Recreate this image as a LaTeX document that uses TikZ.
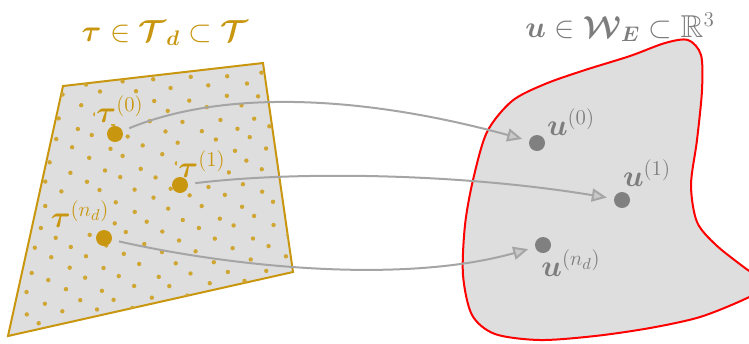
\documentclass[tikz,border=0pt]{standalone}
\usepackage{amsmath,amssymb,bm}
\usetikzlibrary{arrows.meta,positioning,calc}

\definecolor{gold}{RGB}{200,150,15}
\definecolor{dotgray}{RGB}{128,128,128}
\definecolor{arrowgray}{RGB}{165,165,165}
\definecolor{fillgray}{RGB}{222,222,222}
\definecolor{textgray}{RGB}{125,125,125}

\pgfdeclarelayer{front}
\pgfsetlayers{main,front}

\begin{document}
\begin{tikzpicture}[x=0.02cm, y=-0.02cm, bigdot/.style={circle, inner
      sep=0pt, minimum size=0.32cm}, taudot/.style={bigdot, fill=gold},
      udot/.style={bigdot, fill=dotgray}, maplabel/.style={inner sep=0pt,
      font=\fontsize{18pt}{20pt}\selectfont}, taulabel/.style={maplabel,
      text=gold, fill=fillgray, inner sep=1pt}, mapping/.style={draw=arrowgray,
      line width=0.04cm, shorten <=0.14cm, shorten >=0.14cm,
      -{Triangle[length=0.3cm, width=0.26cm, fill=arrowgray!60]}} ]

    \useasboundingbox (0,0) rectangle (749,343);

    % Parameter set (left)
    \draw[gold, line width=0.04cm, fill=fillgray] (63,86) -- (263,63) --
    (293,272) -- (8,336) -- cycle;

    % Sample points of the set
    \begin{scope}
      \clip (63,86) -- (263,63) -- (293,272) -- (8,336) -- cycle;
      \pgfmathsetseed{11}
      \foreach \i in {-14,...,9}
        \foreach \j in {0,...,29}
          \fill[gold!85] ({\i*36+\j*16+3*rand}, {55+\j*10-2*\i+2*rand})
          circle (0.044cm);
    \end{scope}

    % Displacement domain (right)
    \draw[red, line width=0.04cm, fill=fillgray] plot[smooth cycle]
    coordinates {(688,40) (701,55) (702,90) (697,140) (691,185) (697,222)
    (716,245) (745,268) (768,285) (745,299) (700,317) (650,328) (595,336)
    (540,340) (495,334) (472,315) (463,275) (465,225) (473,180) (487,132)
    (512,101) (545,84) (585,70) (630,56) (665,43)};

    % Titles
    \node[maplabel, text=gold] (ttitle) at (165,33) {$\bm{\tau} \in
    \bm{\mathcal{T}_{d}} \subset \bm{\mathcal{T}}$};
    \node[maplabel, text=textgray] (utitle) at (620,27) {$\bm{u} \in
    \bm{\mathcal{W}_{E}} \subset \mathbb{R}^{3}$};

    % Samples and responses, kept in front of the labels
    \begin{pgfonlayer}{front}
      \node[taudot] (t0) at (115,134) {}; \node[taudot] (t1) at (180,185) {};
      \node[taudot] (tn) at (104,238) {};
      \node[udot] (u0) at (537,143) {}; \node[udot] (u1) at (622,200) {};
      \node[udot] (un) at (543,245) {};
    \end{pgfonlayer}

    % Labels for samples and responses
    \node[taulabel] at ($(t0)+(5,-25)$) {$\bm{\tau}^{(0)}$};
    \node[taulabel] at ($(t1)+(22,-21)$) {$\bm{\tau}^{(1)}$};
    \node[taulabel] at ($(tn)+(-24,-24)$) {$\bm{\tau}^{(n_d)}$};
    \node[maplabel, text=textgray] at ($(u0)+(34,-21)$) {$\bm{u}^{(0)}$};
    \node[maplabel, text=textgray] at ($(u1)+(25,-27)$) {$\bm{u}^{(1)}$};
    \node[maplabel, text=textgray] at ($(un)+(28,18)$) {$\bm{u}^{(n_d)}$};

    % Mappings
    \draw[mapping] (t0) .. controls +(115,-47) and +(-164,-45) .. (u0);
    \draw[mapping] (t1) .. controls +(115,-14) and +(-165,-27) .. (u1);
    \draw[mapping] (tn) .. controls +(124,28) and +(-143,40) .. (un);

\end{tikzpicture}
\end{document}
